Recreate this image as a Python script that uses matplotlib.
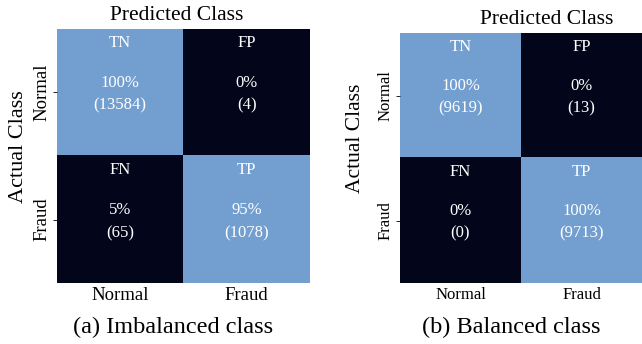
import numpy as np
import matplotlib
matplotlib.use("Agg")
import matplotlib.pyplot as plt
from matplotlib.colors import ListedColormap, BoundaryNorm

plt.rcParams["font.family"] = ["Liberation Serif", "DejaVu Serif"]

classes = ["Normal", "Fraud"]
cell_names = [["TN", "FP"], ["FN", "TP"]]

# confusion matrices (counts) and row-normalised rates in percent
counts_imb = [[13584, 4], [65, 1078]]
pct_imb = [[100, 0], [5, 95]]
counts_bal = [[9619, 13], [0, 9713]]
pct_bal = [[100, 0], [0, 100]]

cmap = ListedColormap(["#03051a", "#729fcf"])
norm = BoundaryNorm([0, 50, 101], cmap.N)


def draw_cm(ax, pct, counts, fs_cell, fs_tick):
    pct = np.array(pct)
    ax.imshow(pct, cmap=cmap, norm=norm, aspect="auto")
    for i in range(2):
        for j in range(2):
            ax.text(j, i - 0.39, cell_names[i][j], ha="center", va="center",
                    color="white", fontsize=fs_cell)
            ax.text(j, i - 0.075, "%d%%" % pct[i, j], ha="center", va="center",
                    color="white", fontsize=fs_cell)
            ax.text(j, i + 0.105, "(%d)" % counts[i][j], ha="center", va="center",
                    color="white", fontsize=fs_cell)
    ax.set_xticks([0, 1])
    ax.set_xticklabels(classes, fontsize=fs_tick)
    ax.set_yticks([0, 1])
    ax.set_yticklabels(classes, fontsize=fs_tick, rotation=90, va="center")
    ax.tick_params(axis="x", length=0, pad=3)
    ax.tick_params(axis="y", length=3, width=0.6, pad=2)
    for s in ax.spines.values():
        s.set_visible(False)


fig = plt.figure(figsize=(6.42, 3.44), dpi=100)

ax1 = fig.add_axes([0.0888, 0.177, 0.394, 0.739])
draw_cm(ax1, pct_imb, counts_imb, 12, 13.5)

ax2 = fig.add_axes([0.623, 0.177, 0.377, 0.727])
draw_cm(ax2, pct_bal, counts_bal, 12, 12)

fig.text(177 / 642, 1 - 15 / 344, "Predicted Class", ha="center", va="center", fontsize=15.5)
fig.text(547 / 642, 1 - 20 / 344, "Predicted Class", ha="center", va="center", fontsize=15.5)
fig.text(19 / 642, 1 - 147 / 344, "Actual Class", ha="center", va="center",
         rotation=90, fontsize=16)
fig.text(356 / 642, 1 - 138 / 344, "Actual Class", ha="center", va="center",
         rotation=90, fontsize=15.5)
fig.text(173 / 642, 1 - 327 / 344, "(a) Imbalanced class", ha="center", va="center", fontsize=17.5)
fig.text(511 / 642, 1 - 327 / 344, "(b) Balanced class", ha="center", va="center", fontsize=17.5)

fig.savefig("out.png", dpi=100)
